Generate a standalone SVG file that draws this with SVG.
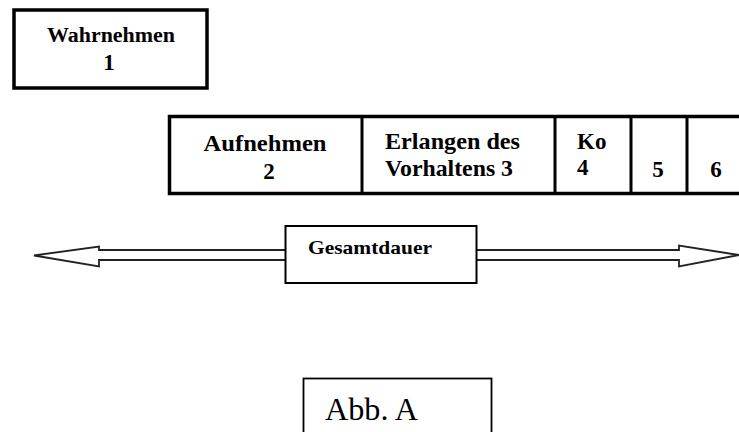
<svg xmlns="http://www.w3.org/2000/svg" width="739" height="432" viewBox="0 0 739 432">
<style>
text{font-family:'Liberation Serif',serif}
.t{font-weight:700;fill:#000}
.thick{fill:#fff;stroke:#000;stroke-width:3.5}
.thin{fill:#fff;stroke:#000;stroke-width:2}
.arr{fill:none;stroke:#222;stroke-width:1.8;stroke-linejoin:miter}
</style>
<rect width="739" height="432" fill="#fff"/>
<g id="node-wahrnehmen">
<rect class="thick" x="14" y="10" width="193" height="78"/>
<text class="t" x="111" y="42" font-size="20" text-anchor="middle" textLength="128" lengthAdjust="spacingAndGlyphs">Wahrnehmen</text>
<text class="t" x="109" y="70" font-size="23" text-anchor="middle">1</text>
</g>
<g id="node-row">
<rect class="thick" x="169.5" y="116.5" width="580" height="77"/>
<line x1="362" y1="116" x2="362" y2="194" stroke="#000" stroke-width="3"/>
<line x1="555" y1="116" x2="555" y2="194" stroke="#000" stroke-width="3"/>
<line x1="631" y1="116" x2="631" y2="194" stroke="#000" stroke-width="3"/>
<line x1="687" y1="116" x2="687" y2="194" stroke="#000" stroke-width="3"/>
</g>
<g id="node-aufnehmen">
<text class="t" x="265" y="151" font-size="23" text-anchor="middle" textLength="123" lengthAdjust="spacingAndGlyphs">Aufnehmen</text>
<text class="t" x="269" y="179" font-size="23" text-anchor="middle">2</text>
</g>
<g id="node-erlangen">
<text class="t" x="385" y="149" font-size="23" textLength="135" lengthAdjust="spacingAndGlyphs">Erlangen des</text>
<text class="t" x="385" y="176" font-size="23" textLength="128" lengthAdjust="spacingAndGlyphs">Vorhaltens 3</text>
</g>
<g id="node-ko">
<text class="t" x="577" y="149" font-size="23">Ko</text>
<text class="t" x="577" y="175" font-size="23">4</text>
</g>
<g id="node-5">
<text class="t" x="658" y="177" font-size="23" text-anchor="middle">5</text>
</g>
<g id="node-6">
<text class="t" x="716" y="177" font-size="23" text-anchor="middle">6</text>
</g>
<g id="connectors">
<path class="arr" d="M285 250 H99 V246.5 L34 255.5 L99 266.5 V260 H285"/>
<path class="arr" d="M477 250 H679 V245.5 L739 255 L679 266.5 V260 H477"/>
</g>
<g id="node-gesamtdauer">
<rect class="thin" x="285.5" y="226" width="191" height="57"/>
<text class="t" x="308" y="254" font-size="19" textLength="124" lengthAdjust="spacingAndGlyphs">Gesamtdauer</text>
</g>
<g id="node-abb">
<rect fill="#fff" stroke="#000" stroke-width="1.8" x="303.5" y="378.5" width="188" height="60"/>
<text x="325" y="420" font-size="31" textLength="93" lengthAdjust="spacingAndGlyphs" fill="#000">Abb. A</text>
</g>
</svg>
